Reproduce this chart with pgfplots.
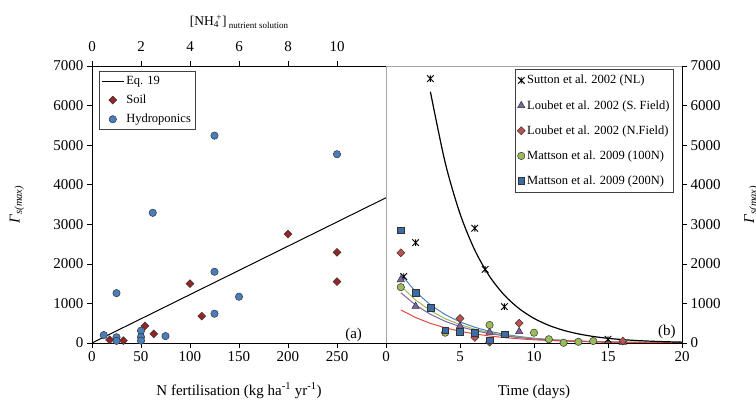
\documentclass[border=0pt]{standalone}
\usepackage{fontspec}
\setmainfont{Liberation Serif}
\usepackage{pgfplots}
\pgfplotsset{compat=1.18}

\definecolor{soilred}{RGB}{150,38,38}
\definecolor{hydblue}{RGB}{74,126,187}
\definecolor{xlred}{RGB}{192,80,77}
\definecolor{xlpurple}{RGB}{128,100,162}
\definecolor{xlgreen}{RGB}{155,187,89}
\definecolor{sqblue}{RGB}{60,108,168}
\definecolor{cblue}{RGB}{79,129,189}
\definecolor{cred}{RGB}{225,75,65}

% Excel-like star marker (X with a vertical bar)
\pgfdeclareplotmark{xlstar}{%
  \pgfpathmoveto{\pgfqpoint{-\pgfplotmarksize}{-\pgfplotmarksize}}%
  \pgfpathlineto{\pgfqpoint{\pgfplotmarksize}{\pgfplotmarksize}}%
  \pgfpathmoveto{\pgfqpoint{-\pgfplotmarksize}{\pgfplotmarksize}}%
  \pgfpathlineto{\pgfqpoint{\pgfplotmarksize}{-\pgfplotmarksize}}%
  \pgfpathmoveto{\pgfqpoint{0pt}{-\pgfplotmarksize}}%
  \pgfpathlineto{\pgfqpoint{0pt}{\pgfplotmarksize}}%
  \pgfusepathqstroke}

\pgfplotsset{
  panel/.style={
    scale only axis, width=294pt, height=277pt,
    ymin=0, ymax=7000, ytick={0,1000,...,7000},
    tick align=outside, major tick length=5pt,
    tick style={black, line width=0.6pt},
    axis line style={-, line width=0.6pt},
    scaled y ticks=false,
    /pgf/number format/assume math mode=true,
    /pgf/number format/1000 sep={},
    tick label style={font=\rmfamily\fontsize{15}{17}\selectfont},
    label style={font=\rmfamily\fontsize{15}{17}\selectfont},
    legend style={font=\rmfamily\fontsize{12.5}{14}\selectfont, draw=black!75, line width=0.5pt,
      fill=white, inner xsep=2pt, inner ysep=3pt, row sep=5pt},
    legend cell align=left,
  },
  markleg/.style={legend image code/.code={\draw[##1] plot coordinates {(4pt,0pt)};}},
  markleg11/.style={legend image code/.code={\draw[##1] plot coordinates {(11pt,0pt)};}},
  lineleg/.style={legend image code/.code={\draw[##1] (0pt,0pt) -- (22pt,0pt);}},
}

\begin{document}
\begin{tikzpicture}
% ---------- panel (a) ----------
\begin{axis}[panel,
  at={(92pt,58pt)}, anchor=south west,
  xmin=0, xmax=300, xtick={0,50,...,250},
  axis x line*=bottom, axis y line*=left,
  xlabel={N fertilisation (kg ha\textsuperscript{-1} yr\textsuperscript{-1})},
  xlabel style={at={(axis description cs:0.5,-0.188)}, anchor=base},
  ylabel={\textit{Γ}\textsubscript{\textit{s(max)}}},
  ylabel style={at={(axis description cs:-0.255,0.5)}, anchor=center},
  legend style={at={(0.024,0.982)}, anchor=north west, row sep=5pt},
]
\addplot[black, line width=1pt, lineleg]
  coordinates {(0,0) (300,3670)};
\addplot[only marks, mark=square*, mark size=2.8pt,
  mark options={draw=black!80, line width=0.5pt, fill=soilred, rotate=45}, markleg11]
  coordinates {
  (18,80) (32,60) (54,430) (63,230) (100,1500) (112,680)
  (200,2750) (250,2290) (250,1550)};
\addplot[only marks, mark=*, mark size=3.7pt,
  mark options={draw=black!80, line width=0.5pt, fill=hydblue}, markleg11]
  coordinates {
  (12,200) (25,145) (25,55) (25,1260) (50,310) (50,150) (50,60)
  (62,3290) (75,175) (125,5240) (125,1800) (125,740) (150,1170) (250,4770)};
\legend{Eq. 19, Soil, Hydroponics}
\node[font=\fontsize{15}{17}\selectfont] at (axis cs:267,200) {(a)};
\end{axis}

% top axis: ammonium in nutrient solution
\begin{axis}[panel,
  at={(92pt,58pt)}, anchor=south west,
  xmin=0, xmax=12, xtick={0,2,...,10},
  axis x line*=top, axis y line=none,
  xticklabel style={yshift=6pt},
  xlabel={[NH\textsubscript{4}\kern-0.2em\textsuperscript{+}]\,{\fontsize{9}{10}\selectfont\raisebox{-0.25em}{nutrient solution}}},
  xlabel style={at={(axis description cs:0.5,1.145)}, anchor=base, font=\rmfamily\fontsize{13.5}{15}\selectfont},
]
\addplot[draw=none, forget plot] coordinates {(0,0) (12,0)};
\end{axis}

% ---------- panel (b) ----------
\begin{axis}[panel,
  at={(386pt,58pt)}, anchor=south west, width=296pt,
  xmin=0, xmax=20, xtick={0,5,...,20},
  axis x line*=bottom, axis y line*=right,
  xlabel={Time (days)},
  xlabel style={at={(axis description cs:0.5,-0.188)}, anchor=base},
  ylabel={\textit{Γ}\textsubscript{\textit{s(max)}}},
  ylabel style={at={(axis description cs:1.235,0.5)}, anchor=center},
  legend style={at={(0.436,0.989)}, anchor=north west, row sep=11pt, inner ysep=4pt},
]
\draw[gray!70, line width=0.6pt] (rel axis cs:0,0) -- (rel axis cs:0,1) -- (rel axis cs:1,1);
% fitted curves
\addplot[cblue, line width=1pt, forget plot] coordinates {
  (1,1740) (2,1295) (3,963) (4,717) (5,533) (6,397) (7,295) (8,220) (9,163) (10,122)
  (11,90) (12,67) (13,50) (14,37) (15,28) (16,21) (17,15) (18,11) (19,8) (20,6)};
\addplot[xlgreen, line width=1pt, forget plot] coordinates {
  (1,1440) (2,1085) (3,817) (4,615) (5,463) (6,349) (7,263) (8,198) (9,149) (10,112)
  (11,84) (12,64) (13,48) (14,36) (15,27) (16,20) (17,15) (18,11) (19,9) (20,6)};
\addplot[xlpurple, line width=1pt, forget plot] coordinates {
  (1,1270) (2,960) (3,725) (4,548) (5,414) (6,313) (7,237) (8,179) (9,135) (10,102)
  (11,77) (12,58) (13,44) (14,33) (15,25) (16,19) (17,14) (18,11) (19,8) (20,6)};
\addplot[cred, line width=1pt, forget plot] coordinates {
  (1,834) (2,644) (3,497) (4,384) (5,296) (6,229) (7,177) (8,136) (9,105) (10,81)
  (11,63) (12,48) (13,37) (14,29) (15,22) (16,17) (17,13) (18,10) (19,8) (20,6)};
\addplot[black, line width=1.2pt, smooth, forget plot] coordinates {
  (3,6350) (4,4556) (5,3269) (6,2346) (7,1683) (8,1208) (9,867) (10,622) (11,446)
  (12,320) (13,230) (14,165) (15,118) (16,85) (17,61) (18,44) (19,31) (20,22)};
% measurements
\addplot[only marks, mark=xlstar, mark size=3.3pt, mark options={black, line width=0.9pt}, markleg]
  coordinates {(1.2,1680) (2,2535) (3,6680) (6,2900) (6.7,1860) (8,920) (15,95)};
\addplot[only marks, mark=triangle*, mark size=4.2pt,
  mark options={draw=black!80, line width=0.5pt, fill=xlpurple}, markleg]
  coordinates {(1,1600) (2,930) (5,430) (7,270) (9,290) (16,20)};
\addplot[only marks, mark=square*, mark size=2.8pt,
  mark options={draw=black!80, line width=0.5pt, fill=xlred, rotate=45}, markleg]
  coordinates {(1,2280) (5,620) (6,140) (7,20) (9,500) (16,50)};
\addplot[only marks, mark=*, mark size=3.7pt,
  mark options={draw=black!80, line width=0.5pt, fill=xlgreen}, markleg]
  coordinates {(1,1410) (4,260) (7,455) (10,260) (11,95) (12,5) (13,30) (14,50)};
\addplot[only marks, mark=square*, mark size=3.4pt,
  mark options={draw=black!80, line width=0.5pt, fill=sqblue}, markleg]
  coordinates {(1,2850) (2,1260) (3,890) (4,320) (5,290) (6,250) (7,70) (8,220)};
\legend{Sutton et al. 2002 (NL), Loubet et al. 2002 (S. Field), Loubet et al. 2002 (N.Field),
  Mattson et al. 2009 (100N), Mattson et al. 2009 (200N)}
\node[font=\fontsize{15}{17}\selectfont] at (axis cs:18.97,285) {(b)};
\end{axis}

\pgfresetboundingbox
\path[use as bounding box] (0pt,0pt) rectangle (756pt,401pt);
\end{tikzpicture}
\end{document}
